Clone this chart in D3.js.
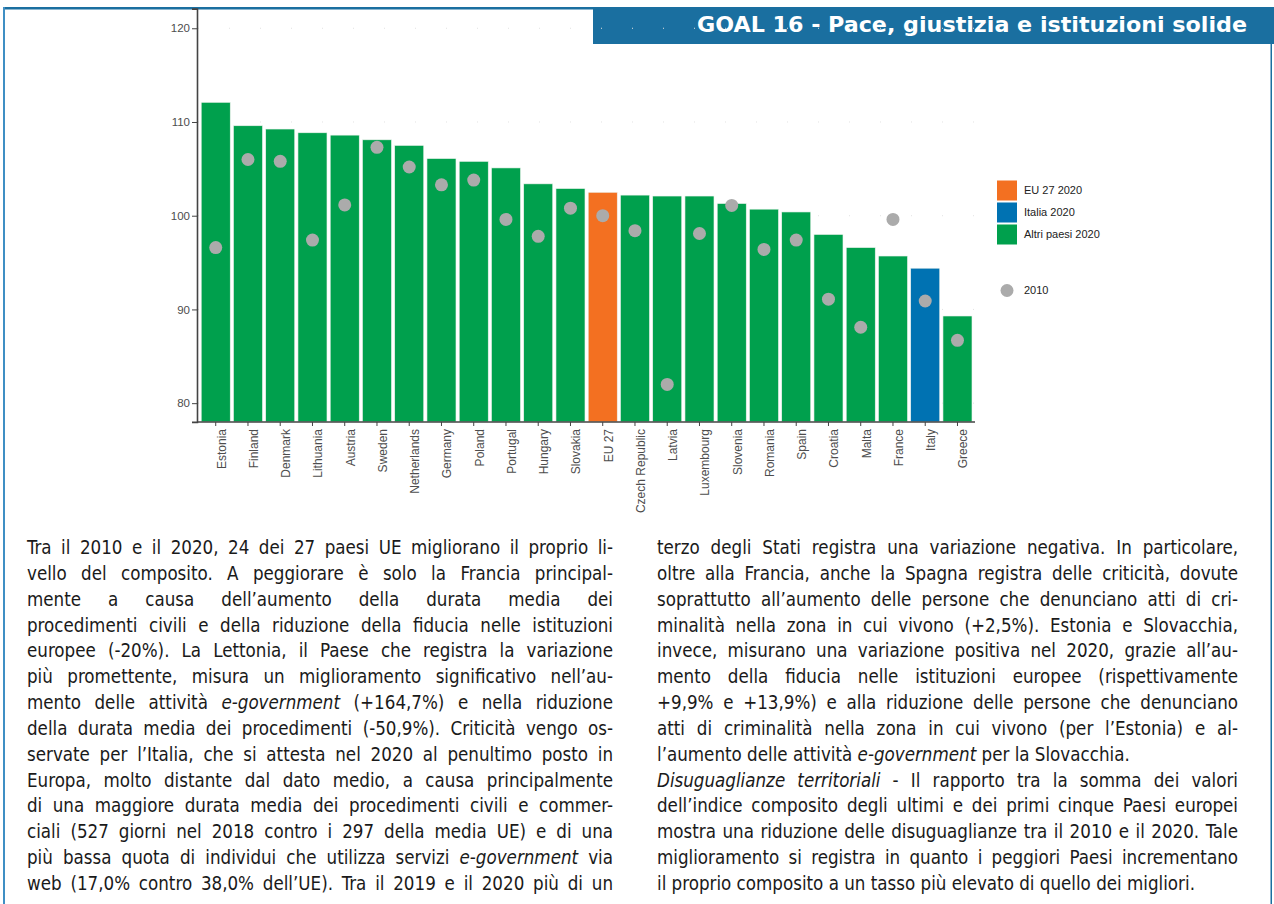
<!DOCTYPE html>
<html>
<head>
<meta charset="utf-8">
<script src="https://cdn.jsdelivr.net/npm/d3@7"></script>
<style>
  body { margin: 0; background: #fff; }
  #page { position: relative; width: 1274px; height: 904px; overflow: hidden; }
  svg { position: absolute; left: 0; top: 0; }
  .col { position: absolute; top: 535px; font-family: "DejaVu Sans Condensed", "DejaVu Sans", sans-serif;
         font-size: 18.6px; line-height: 25.85px; color: #1a1a1a; }
  .col div { white-space: nowrap; text-align: justify; text-align-last: justify; }
  .col div.end { text-align-last: left; }
</style>
</head>
<body>
<div id="page"></div>
<script>
// dati
var paesi = ["Estonia","Finland","Denmark","Lithuania","Austria","Sweden","Netherlands","Germany","Poland","Portugal","Hungary","Slovakia","EU 27","Czech Republic","Latvia","Luxembourg","Slovenia","Romania","Spain","Croatia","Malta","France","Italy","Greece"];
var valori2020 = [112.1,109.6,109.25,108.85,108.6,108.1,107.5,106.1,105.8,105.1,103.4,102.9,102.5,102.2,102.1,102.1,101.3,100.7,100.4,98.0,96.6,95.7,94.4,89.3];
var valori2010 = [96.6,106.0,105.8,97.4,101.15,107.3,105.2,103.3,103.8,99.6,97.8,100.8,100.0,98.4,82.0,98.1,101.1,96.4,97.4,91.1,88.1,99.6,90.9,86.7];
var gruppi = ["EU 27 2020","Italia 2020","Altri paesi 2020"];
var colori = ["#f37021","#0072b2","#00a04d"];
var yTicks = [80,90,100,110,120];
var titolo = "GOAL 16 - Pace, giustizia e istituzioni solide";

function gruppo(p){
  if (p == "EU 27") return gruppi[0];
  if (p == "Italy") return gruppi[1];
  return gruppi[2];
}

var page = d3.select("#page");
var svg = page.append("svg").attr("width",1274).attr("height",904);

// cornice
var blu = "#1a6fa0";
svg.append("rect").attr("x",3).attr("y",7).attr("width",591).attr("height",2.5).attr("fill",blu);
svg.append("rect").attr("x",3).attr("y",7).attr("width",2).attr("height",897).attr("fill","#3f8fc4");
svg.append("rect").attr("x",1270.5).attr("y",44).attr("width",1.5).attr("height",860).attr("fill",blu);
svg.append("rect").attr("x",593).attr("y",7).attr("width",681).attr("height",37).attr("fill",blu);
svg.append("text").attr("x",697).attr("y",32)
  .attr("textLength",550).attr("lengthAdjust","spacingAndGlyphs")
  .style("font-family","'DejaVu Sans Condensed', 'DejaVu Sans', sans-serif")
  .style("font-weight","bold").style("font-size","22px").attr("fill","#fff")
  .text(titolo);

// scale
var x = d3.scaleBand().domain(paesi).range([199.6,973.6]).paddingInner(0.1).paddingOuter(0.05);
var y = d3.scaleLinear().domain([78,122.1]).range([421.9,8.6]);
var colore = d3.scaleOrdinal().domain(gruppi).range(colori);

var g = svg.append("g");

// griglia
g.selectAll(".grid").data(yTicks).enter().append("line")
  .attr("x1",198).attr("x2",975)
  .attr("y1",function(d){ return y(d); }).attr("y2",function(d){ return y(d); })
  .attr("stroke","#e2e2e2").attr("stroke-dasharray","1,30");

// barre
g.selectAll(".bar").data(paesi).enter().append("rect")
  .attr("x",function(d){ return x(d); })
  .attr("width",x.bandwidth())
  .attr("y",function(d,i){ return y(valori2020[i]); })
  .attr("height",function(d,i){ return y(78) - y(valori2020[i]); })
  .attr("fill",function(d){ return colore(gruppo(d)); })
  .attr("stroke","#eef3ee").attr("stroke-width",0.6);

// punti 2010
g.selectAll(".dot").data(paesi).enter().append("circle")
  .attr("cx",function(d){ return x(d) + x.bandwidth()/2; })
  .attr("cy",function(d,i){ return y(valori2010[i]); })
  .attr("r",6.5).attr("fill","#ababab");

// assi
var yAxis = g.append("g").attr("transform","translate(197,0)")
  .call(d3.axisLeft(y).tickValues(yTicks).tickSize(5).tickPadding(2));
var xAxis = g.append("g").attr("transform","translate(0,422)")
  .call(d3.axisBottom(x).tickSize(4).tickPadding(3));
xAxis.select(".domain").attr("d","M197,0H975");
[yAxis, xAxis].forEach(function(a){
  a.select(".domain").attr("stroke","#444").attr("stroke-width",1.6);
  a.selectAll(".tick line").attr("stroke","#444");
  a.selectAll("text").attr("fill","#4d4d4d")
    .style("font-family","'Liberation Sans', Arial, sans-serif").style("font-size","12px");
});
yAxis.selectAll("text").style("font-size","11.5px");
xAxis.selectAll(".tick text")
  .attr("transform","translate(0,7) rotate(-90)")
  .attr("text-anchor","end").attr("x",0).attr("y",0).attr("dy","0.83em");

// legenda
var leg = svg.append("g");
gruppi.forEach(function(k,i){
  leg.append("rect").attr("x",997).attr("y",180.5 + i*22).attr("width",20).attr("height",20)
    .attr("fill",colore(k));
  leg.append("text").attr("x",1024).attr("y",190.5 + i*22).attr("dy","0.35em")
    .style("font-family","'Liberation Sans', Arial, sans-serif").style("font-size","11px")
    .attr("fill","#222").text(k);
});
leg.append("circle").attr("cx",1007).attr("cy",290.5).attr("r",6.5).attr("fill","#ababab");
leg.append("text").attr("x",1024).attr("y",290.5).attr("dy","0.35em")
  .style("font-family","'Liberation Sans', Arial, sans-serif").style("font-size","11px")
  .attr("fill","#222").text("2010");

// testo
var testoSx = [
  "Tra il 2010 e il 2020, 24 dei 27 paesi UE migliorano il proprio li-",
  "vello del composito. A peggiorare è solo la Francia principal-",
  "mente a causa dell’aumento della durata media dei",
  "procedimenti civili e della riduzione della fiducia nelle istituzioni",
  "europee (-20%). La Lettonia, il Paese che registra la variazione",
  "più promettente, misura un miglioramento significativo nell’au-",
  "mento delle attività <i>e-government</i> (+164,7%) e nella riduzione",
  "della durata media dei procedimenti (-50,9%). Criticità vengo os-",
  "servate per l’Italia, che si attesta nel 2020 al penultimo posto in",
  "Europa, molto distante dal dato medio, a causa principalmente",
  "di una maggiore durata media dei procedimenti civili e commer-",
  "ciali (527 giorni nel 2018 contro i 297 della media UE) e di una",
  "più bassa quota di individui che utilizza servizi <i>e-government</i> via",
  "web (17,0% contro 38,0% dell’UE). Tra il 2019 e il 2020 più di un"
];
var testoDx = [
  "terzo degli Stati registra una variazione negativa. In particolare,",
  "oltre alla Francia, anche la Spagna registra delle criticità, dovute",
  "soprattutto all’aumento delle persone che denunciano atti di cri-",
  "minalità nella zona in cui vivono (+2,5%). Estonia e Slovacchia,",
  "invece, misurano una variazione positiva nel 2020, grazie all’au-",
  "mento della fiducia nelle istituzioni europee (rispettivamente",
  "+9,9% e +13,9%) e alla riduzione delle persone che denunciano",
  "atti di criminalità nella zona in cui vivono (per l’Estonia) e al-",
  "l’aumento delle attività <i>e-government</i> per la Slovacchia.",
  "<i>Disuguaglianze territoriali</i> - Il rapporto tra la somma dei valori",
  "dell’indice composito degli ultimi e dei primi cinque Paesi europei",
  "mostra una riduzione delle disuguaglianze tra il 2010 e il 2020. Tale",
  "miglioramento si registra in quanto i peggiori Paesi incrementano",
  "il proprio composito a un tasso più elevato di quello dei migliori."
];
var fineDx = [8, 13];

page.append("div").attr("class","col").style("left","27px").style("width","586px")
  .selectAll("div").data(testoSx).enter().append("div").html(function(d){ return d; });
page.append("div").attr("class","col").style("left","657px").style("width","581px")
  .selectAll("div").data(testoDx).enter().append("div")
  .classed("end",function(d,i){ return fineDx.indexOf(i) >= 0; })
  .html(function(d){ return d; });
</script>
</body>
</html>
